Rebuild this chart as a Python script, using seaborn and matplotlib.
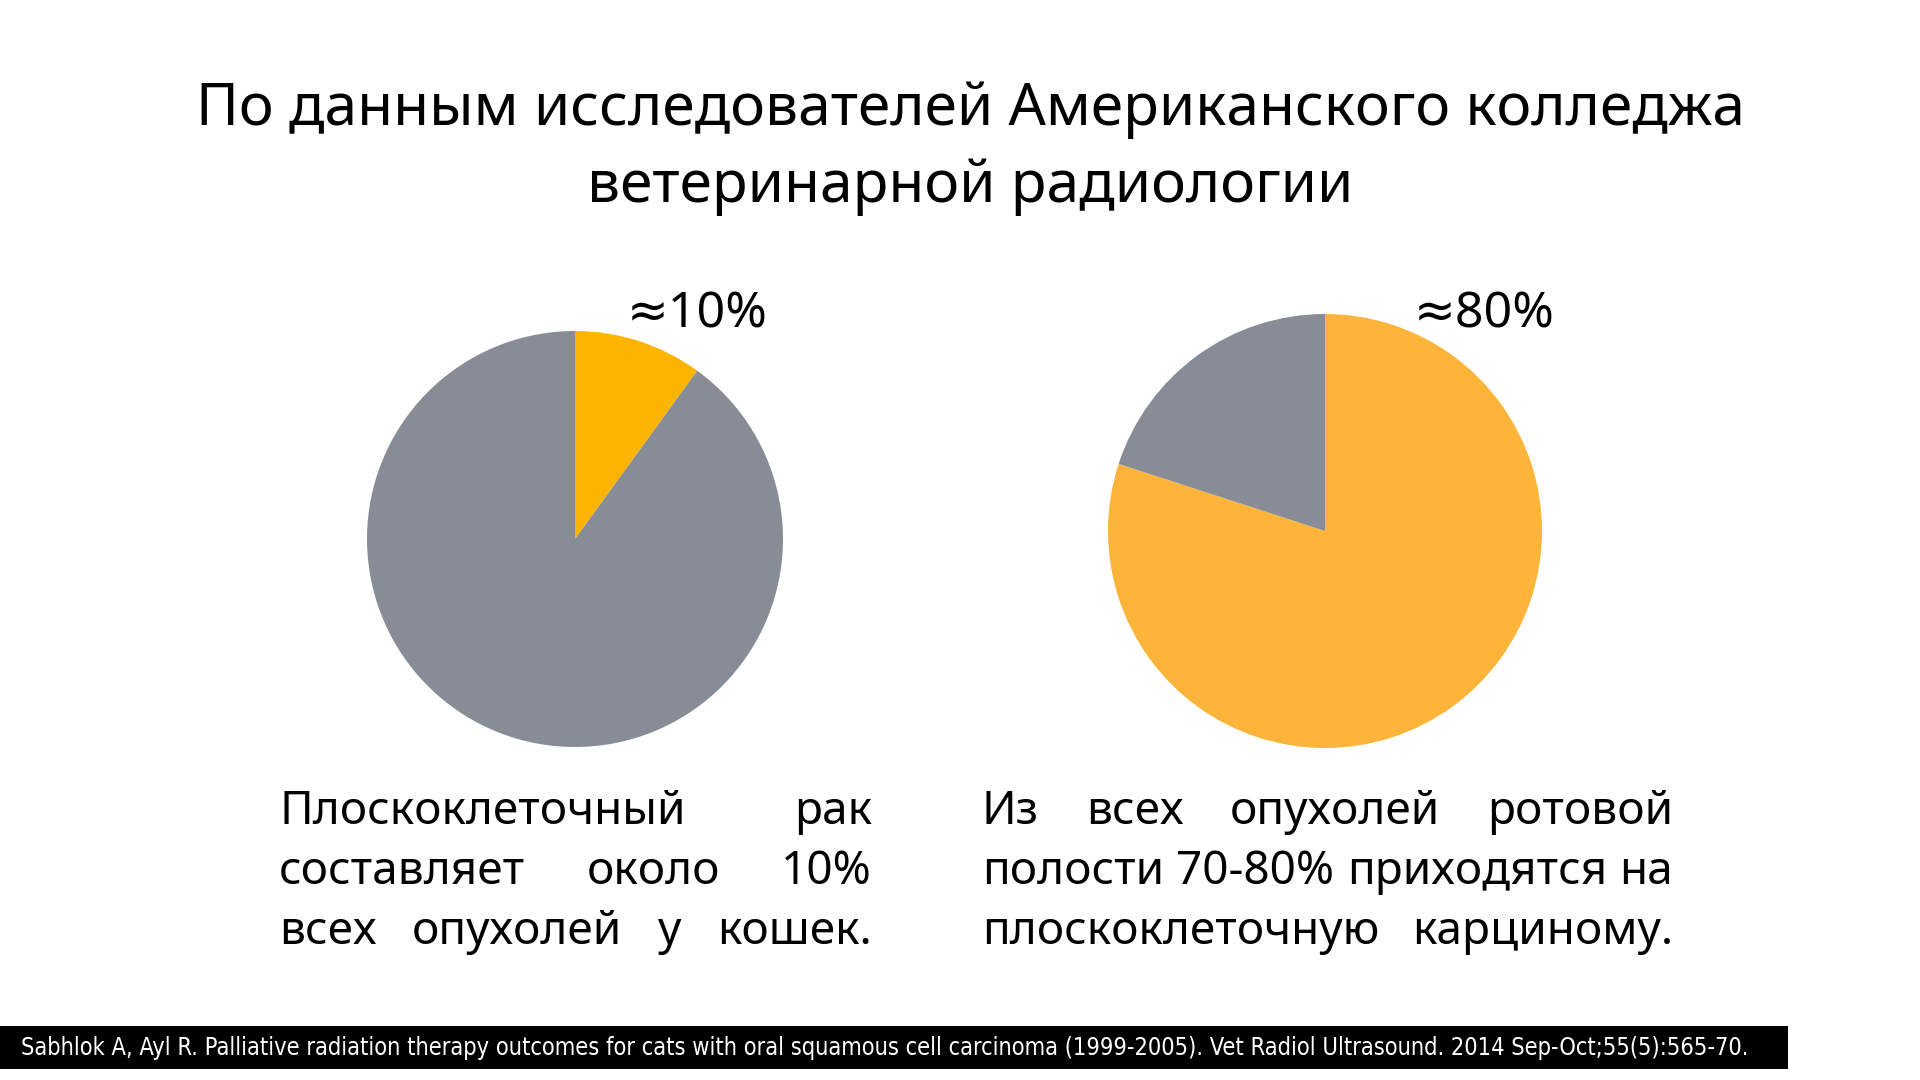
import matplotlib
matplotlib.use("Agg")
import matplotlib.pyplot as plt
from matplotlib.patches import Rectangle
import seaborn as sns

# ---- data ----
title_lines = ["По данным исследователей Американского колледжа",
               "ветеринарной радиологии"]
pie_left_values = [10, 90]
pie_right_values = [80, 20]
pie_left_label = "≈10%"
pie_right_label = "≈80%"
left_text = [["Плоскоклеточный", "рак"],
             ["составляет", "около", "10%"],
             ["всех", "опухолей", "у", "кошек."]]
right_text = [["Из", "всех", "опухолей", "ротовой"],
              ["полости", "70-80%", "приходятся", "на"],
              ["плоскоклеточную", "карциному."]]
footer = ("Sabhlok A, Ayl R. Palliative radiation therapy outcomes for cats with oral "
          "squamous cell carcinoma (1999-2005). Vet Radiol Ultrasound. 2014 Sep-Oct;55(5):565-70.")

# ---- style ----
sns.set_theme(style="white")
FAM = ["Noto Sans", "DejaVu Sans"]
plt.rcParams["font.family"] = FAM
gray = "#878C96"
orange_left = "#FDB400"
orange_right = "#FDB43A"
pal_left = sns.color_palette([orange_left, gray])
pal_right = sns.color_palette([orange_right, gray])

W, H = 1920, 1080
fig = plt.figure(figsize=(W / 100, H / 100), dpi=100)
fig.patch.set_facecolor("white")
renderer = fig.canvas.get_renderer()


def text_width(s, size, **kw):
    t = fig.text(0, 0, s, fontsize=size, **kw)
    w = t.get_window_extent(renderer).width
    t.remove()
    return w


def fit_size(s, target, **kw):
    return 40 * target / text_width(s, 40, **kw)


def put(x, y, s, size, **kw):
    return fig.text(x / W, 1 - y / H, s, fontsize=size, **kw)


def justify(words, x0, x1, y, size, color="black"):
    widths = [text_width(w, size) for w in words]
    gap = (x1 - x0 - sum(widths)) / (len(words) - 1)
    x = x0
    for w, wd in zip(words, widths):
        put(x, y, w, size, ha="left", va="baseline", color=color)
        x += wd + gap


# ---- title ----
title_size = fit_size(title_lines[0], 1549)
put(970, 125, title_lines[0], title_size, ha="center", va="baseline", color="black")
put(970, 202, title_lines[1], title_size, ha="center", va="baseline", color="black")


# ---- pies ----
def pie_axes(cx, cy, r, values, pal):
    ax = fig.add_axes([(cx - r) / W, 1 - (cy + r) / H, 2 * r / W, 2 * r / H])
    ax.pie(values, colors=pal, startangle=90, counterclock=False,
           wedgeprops=dict(linewidth=0))
    ax.set_xlim(-1, 1)
    ax.set_ylim(-1, 1)
    ax.set_aspect("equal")
    ax.axis("off")
    return ax


pie_axes(575, 539, 208, pie_left_values, pal_left)
pie_axes(1325, 531, 217, pie_right_values, pal_right)

lab_size = 36
put(697, 328, pie_left_label, lab_size, ha="center", va="baseline", color="black")
put(1484, 328, pie_right_label, lab_size, ha="center", va="baseline", color="black")

# ---- body text ----
body_size = fit_size(" ".join(right_text[1]), 690)
baselines = [824, 884, 944]
for words, y in zip(left_text, baselines):
    justify(words, 279, 872, y, body_size)
for words, y in zip(right_text, baselines):
    justify(words, 982, 1673, y, body_size)

# ---- footer ----
fig.patches.append(Rectangle((0, 1 - 1069 / H), 1788 / W, 43 / H,
                             transform=fig.transFigure, facecolor="black",
                             edgecolor="none"))
foot_kw = dict(fontstretch="condensed", family=["DejaVu Sans", "Noto Sans"])
foot_size = fit_size(footer, 1734, **foot_kw)
put(21, 1048, footer, foot_size, ha="left", va="center", color="white", **foot_kw)

fig.savefig("out.png", dpi=100, facecolor="white")
